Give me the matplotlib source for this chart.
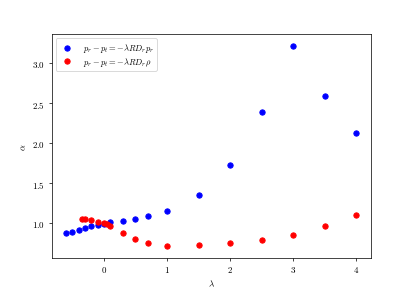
from matplotlib import pyplot as plt
import numpy as np

plt.rcParams['font.family'] = 'serif'
plt.rcParams['font.serif'] = ['cmr10', 'DejaVu Serif']
plt.rcParams['mathtext.fontset'] = 'cm'
plt.rcParams['axes.formatter.use_mathtext'] = True

# p_r - p_t = -lambda R D_r p_r
lam_blue = [-0.6, -0.5, -0.4, -0.3, -0.2, -0.1, 0.0, 0.1, 0.3, 0.5, 0.7, 1.0,
            1.5, 2.0, 2.5, 3.0, 3.5, 4.0]
alpha_blue = [0.872, 0.892, 0.913, 0.938, 0.963, 0.979, 0.996, 1.009, 1.025,
              1.054, 1.091, 1.153, 1.35, 1.73, 2.39, 3.22, 2.594, 2.13]

# p_r - p_t = -lambda R D_r rho
lam_red = [-0.35, -0.3, -0.2, -0.1, 0.0, 0.05, 0.1, 0.3, 0.5, 0.7, 1.0,
           1.5, 2.0, 2.5, 3.0, 3.5, 4.0]
alpha_red = [1.05, 1.05, 1.037, 1.02, 1.004, 0.996, 0.963, 0.879, 0.805,
             0.755, 0.717, 0.726, 0.755, 0.792, 0.85, 0.963, 1.1]


def main():
	fig, ax = plt.subplots(figsize=(6.4, 4.52), dpi=412 / 6.4)

	ax.scatter(lam_blue, alpha_blue, color="blue",
	           label=r"$p_r - p_t = -\lambda R D_r p_r$")
	ax.scatter(lam_red, alpha_red, color="red",
	           label=r"$p_r - p_t = -\lambda R D_r \rho$")

	ax.set_xlabel(r"$\lambda$")
	ax.set_ylabel(r"$\alpha$")
	ax.set_xticks([0, 1, 2, 3, 4])
	ax.set_yticks([1.0, 1.5, 2.0, 2.5, 3.0])
	ax.set_ylim(0.565, 3.365)
	ax.legend(loc="upper left", fontsize=9.5, labelspacing=0.05,
	          borderpad=0.35)

	fig.savefig("out.png")


if __name__ == "__main__":
	main()
